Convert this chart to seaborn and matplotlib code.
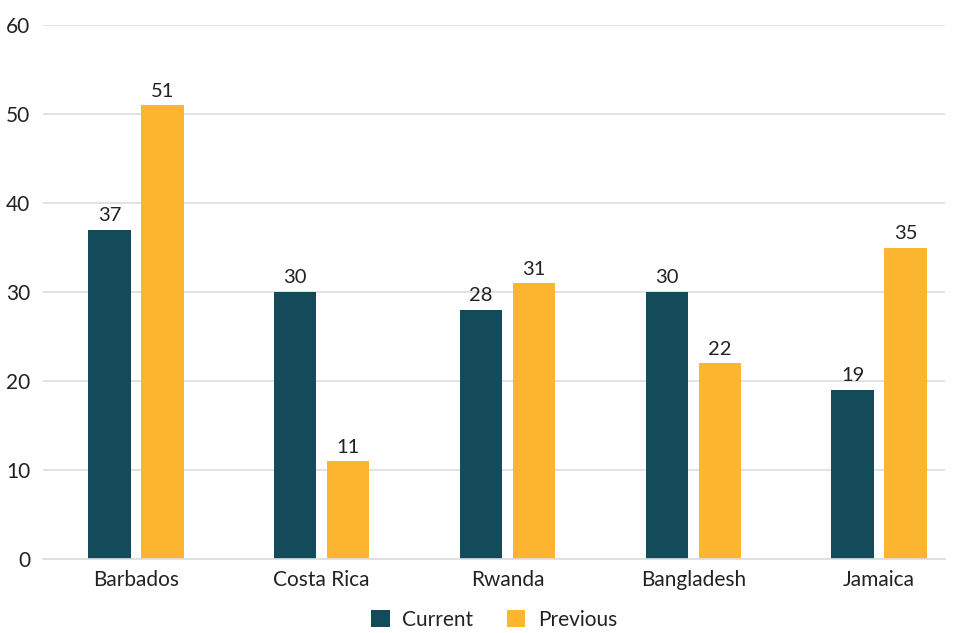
import pandas as pd
import matplotlib
matplotlib.use("Agg")
import matplotlib.pyplot as plt
import seaborn as sns

# chart data
countries = ["Barbados", "Costa Rica", "Rwanda", "Bangladesh", "Jamaica"]
current = [37, 30, 28, 30, 19]
previous = [51, 11, 31, 22, 35]
series_names = ["Current", "Previous"]
colors = ["#134b5a", "#fbb52e"]

df = pd.DataFrame({
    "country": countries * 2,
    "value": current + previous,
    "series": [series_names[0]] * len(countries) + [series_names[1]] * len(countries),
})

sns.set_style("white")
plt.rcParams["font.family"] = ["Lato", "DejaVu Sans"]

fig = plt.figure(figsize=(9.6, 6.33), dpi=100)
ax = fig.add_axes([43 / 960, 74 / 633, 902 / 960, 534 / 633])

sns.barplot(data=df, x="country", y="value", hue="series", order=countries,
            hue_order=series_names, palette=colors, width=0.57, gap=0.2,
            saturation=1, linewidth=0, ax=ax, legend=True)

for cont in ax.containers:
    ax.bar_label(cont, fmt="%d", padding=4, fontsize=14.5, color="#222222")

ax.set_ylim(0, 60)
ax.set_yticks(range(0, 61, 10))
ax.set_xlim(-0.5, len(countries) - 0.645)
ax.yaxis.grid(True, color="#dddddd", linewidth=1.2)
ax.set_axisbelow(True)
for s in ["top", "right", "left"]:
    ax.spines[s].set_visible(False)
ax.spines["bottom"].set_color("#dddddd")
ax.spines["bottom"].set_linewidth(1.2)
ax.tick_params(axis="both", length=0, labelsize=15, colors="#222222")
ax.tick_params(axis="y", pad=9)
ax.tick_params(axis="x", pad=8)
ax.set_xlabel("")
ax.set_ylabel("")

ax.legend(loc="center", bbox_to_anchor=(0.5, -61 / 534), ncol=2, frameon=False,
          fontsize=15, handlelength=0.9, handleheight=0.9, columnspacing=1.6,
          handletextpad=0.6, labelcolor="#222222", borderpad=0.2)

fig.savefig("out.png", dpi=100)
